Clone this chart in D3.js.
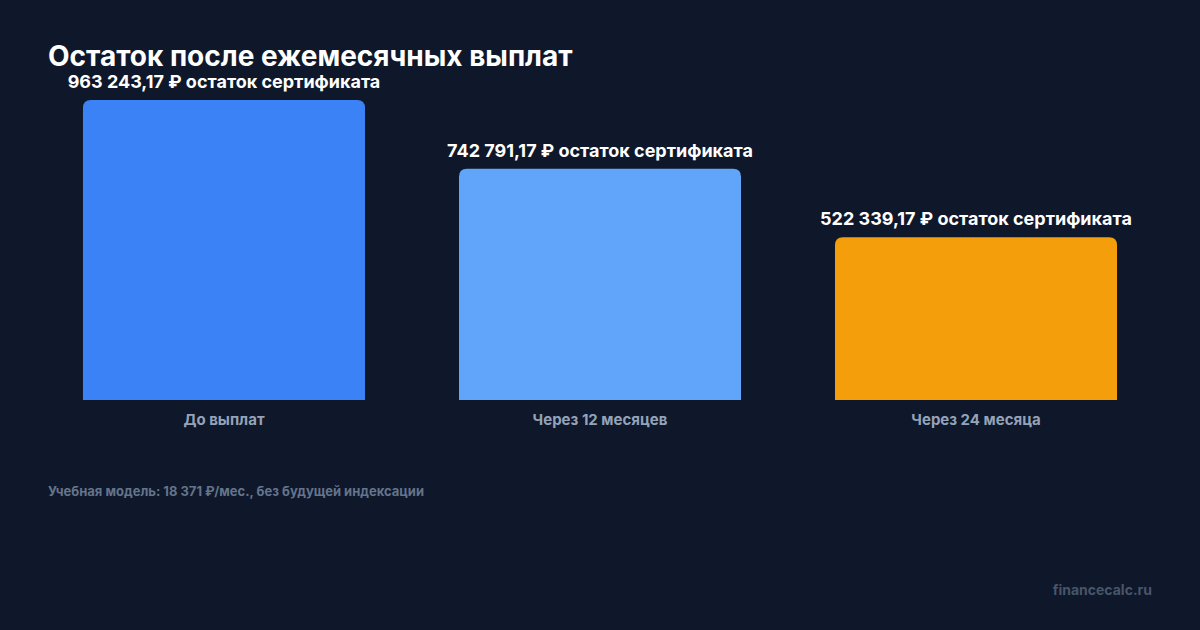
<!DOCTYPE html>
<html>
<head>
  <meta charset="utf-8">
  <script src="https://d3js.org/d3.v7.min.js"></script>
  <style>
    body { margin: 0; background: #0f172a; }
    text { font-family: Inter, "Noto Sans", sans-serif; }
  </style>
</head>
<body>
  <div id="chart"></div>
  <script>
    const categories = ["До выплат", "Через 12 месяцев", "Через 24 месяца"];
    const values = [963243.17, 742791.17, 522339.17];
    const colors = ["#3b82f6", "#60a5fa", "#f59e0b"];

    const width = 1200;
    const height = 630;

    const svg = d3.select("#chart")
      .append("svg")
      .attr("width", width)
      .attr("height", height);

    svg.append("rect")
      .attr("width", width)
      .attr("height", height)
      .attr("fill", "#0f172a");

    const x = d3.scaleBand()
      .domain(categories)
      .range([48, 1152])
      .paddingInner(0.25)
      .paddingOuter(0.093);

    const y = d3.scaleLinear()
      .domain([0, d3.max(values)])
      .range([400, 100]);

    const fmt = v => v.toLocaleString("ru-RU", { minimumFractionDigits: 2, maximumFractionDigits: 2 })
      .replace(/\s/g, " ");

    // bar with rounded top corners
    function barPath(x0, y0, w, h, r) {
      return "M" + x0 + "," + (y0 + h) +
        "V" + (y0 + r) +
        "Q" + x0 + "," + y0 + " " + (x0 + r) + "," + y0 +
        "H" + (x0 + w - r) +
        "Q" + (x0 + w) + "," + y0 + " " + (x0 + w) + "," + (y0 + r) +
        "V" + (y0 + h) + "Z";
    }

    svg.append("text")
      .attr("x", 48)
      .attr("y", 66)
      .attr("fill", "#ffffff")
      .attr("font-size", 28)
      .attr("font-weight", 700)
      .text("Остаток после ежемесячных выплат");

    const bars = svg.selectAll(".bar")
      .data(categories)
      .enter().append("g")
      .attr("class", "bar");

    bars.append("path")
      .attr("d", (d, i) => barPath(x(d), y(values[i]), x.bandwidth(), y(0) - y(values[i]), 8))
      .attr("fill", (d, i) => colors[i]);

    bars.append("text")
      .attr("x", d => x(d) + x.bandwidth() / 2)
      .attr("y", (d, i) => y(values[i]) - 12)
      .attr("text-anchor", "middle")
      .attr("fill", "#ffffff")
      .attr("font-size", 18)
      .attr("font-weight", 700)
      .text((d, i) => fmt(values[i]) + " ₽ остаток сертификата");

    bars.append("text")
      .attr("x", d => x(d) + x.bandwidth() / 2)
      .attr("y", 425)
      .attr("text-anchor", "middle")
      .attr("fill", "#94a3b8")
      .attr("font-size", 15)
      .attr("font-weight", 700)
      .text(d => d);

    svg.append("text")
      .attr("x", 48)
      .attr("y", 496)
      .attr("fill", "#64748b")
      .attr("font-size", 13)
      .attr("font-weight", 700)
      .text("Учебная модель: 18 371 ₽/мес., без будущей индексации");

    svg.append("text")
      .attr("x", 1152)
      .attr("y", 595)
      .attr("text-anchor", "end")
      .attr("fill", "#475569")
      .attr("font-size", 14)
      .attr("font-weight", 700)
      .text("financecalc.ru");
  </script>
</body>
</html>
